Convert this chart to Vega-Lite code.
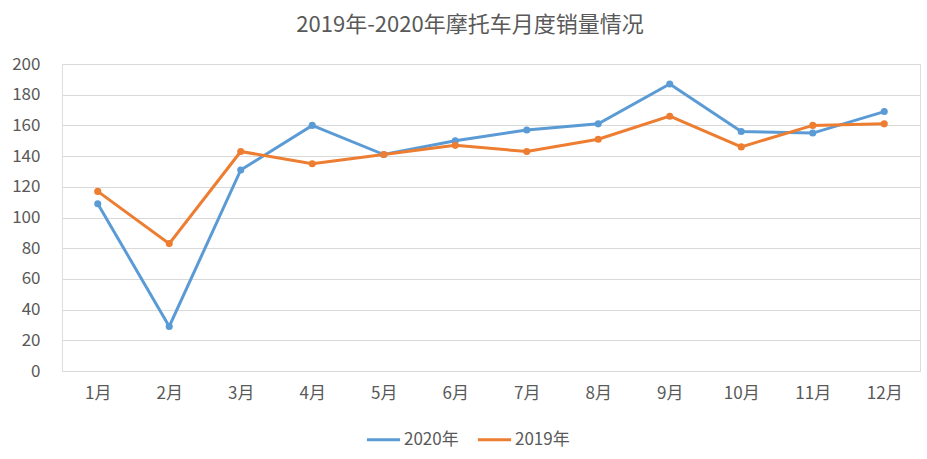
{
  "$schema": "https://vega.github.io/schema/vega-lite/v6.json",
  "autosize": "none",
  "width": 858,
  "height": 307,
  "padding": {"left": 62, "top": 64, "right": 7, "bottom": 88},
  "background": "white",
  "title": {
    "text": "2019年-2020年摩托车月度销量情况",
    "font": "Noto Sans CJK SC",
    "fontSize": 22,
    "fontWeight": "normal",
    "color": "#595959",
    "anchor": "middle",
    "dx": -21,
    "offset": 18
  },
  "data": {
    "values": [
      {"month": "1月", "year": "2020年", "sales": 109},
      {"month": "2月", "year": "2020年", "sales": 29},
      {"month": "3月", "year": "2020年", "sales": 131},
      {"month": "4月", "year": "2020年", "sales": 160},
      {"month": "5月", "year": "2020年", "sales": 141},
      {"month": "6月", "year": "2020年", "sales": 150},
      {"month": "7月", "year": "2020年", "sales": 157},
      {"month": "8月", "year": "2020年", "sales": 161},
      {"month": "9月", "year": "2020年", "sales": 187},
      {"month": "10月", "year": "2020年", "sales": 156},
      {"month": "11月", "year": "2020年", "sales": 155},
      {"month": "12月", "year": "2020年", "sales": 169},
      {"month": "1月", "year": "2019年", "sales": 117},
      {"month": "2月", "year": "2019年", "sales": 83},
      {"month": "3月", "year": "2019年", "sales": 143},
      {"month": "4月", "year": "2019年", "sales": 135},
      {"month": "5月", "year": "2019年", "sales": 141},
      {"month": "6月", "year": "2019年", "sales": 147},
      {"month": "7月", "year": "2019年", "sales": 143},
      {"month": "8月", "year": "2019年", "sales": 151},
      {"month": "9月", "year": "2019年", "sales": 166},
      {"month": "10月", "year": "2019年", "sales": 146},
      {"month": "11月", "year": "2019年", "sales": 160},
      {"month": "12月", "year": "2019年", "sales": 161}
    ]
  },
  "mark": {
    "type": "line",
    "strokeWidth": 3,
    "point": {"filled": true, "size": 50}
  },
  "encoding": {
    "x": {
      "field": "month",
      "type": "ordinal",
      "sort": null,
      "title": null,
      "scale": {"type": "point", "padding": 0.5},
      "axis": {
        "labelAngle": 0,
        "labelFont": "Noto Sans CJK SC",
        "labelFontSize": 17,
        "labelColor": "#595959",
        "labelPadding": 14,
        "ticks": false,
        "domainColor": "#d9d9d9",
        "domainWidth": 1,
        "grid": false
      }
    },
    "y": {
      "field": "sales",
      "type": "quantitative",
      "title": null,
      "scale": {"domain": [0, 200]},
      "axis": {
        "values": [0, 20, 40, 60, 80, 100, 120, 140, 160, 180, 200],
        "labelFont": "Noto Sans CJK SC",
        "labelFontSize": 17,
        "labelColor": "#595959",
        "labelPadding": 22,
        "ticks": false,
        "domain": false,
        "gridColor": "#d9d9d9",
        "gridWidth": 1
      }
    },
    "color": {
      "field": "year",
      "type": "nominal",
      "title": null,
      "scale": {"domain": ["2020年", "2019年"], "range": ["#5b9bd5", "#ed7d31"]},
      "legend": {
        "orient": "none",
        "direction": "horizontal",
        "legendX": 303,
        "legendY": 357,
        "labelFont": "Noto Sans CJK SC",
        "labelFontSize": 17,
        "labelColor": "#595959",
        "symbolType": "stroke",
        "symbolSize": 1100,
        "symbolStrokeWidth": 3,
        "columnPadding": 12,
        "labelOffset": 2
      }
    }
  }
}
